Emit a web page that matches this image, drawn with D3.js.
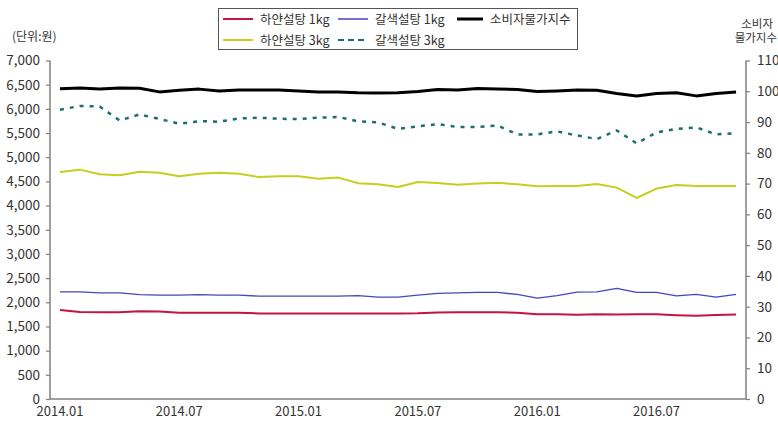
<!DOCTYPE html>
<html>
<head>
<meta charset="utf-8">
<script src="https://cdn.jsdelivr.net/npm/d3@7"></script>
<style>
  body { margin: 0; background: #fff; }
  svg text { font-family: "Noto Sans CJK KR", "Noto Sans", sans-serif; fill: #333; }
</style>
</head>
<body>
<div id="chart"></div>
<script>
// monthly series, 2014.01 ~ 2016.11
const months = [];
for (let y = 2014; y <= 2016; y++) {
    for (let m = 1; m <= 12; m++) {
        if (y === 2016 && m > 11) break;
        months.push(`${y}.${String(m).padStart(2, "0")}`);
    }
}
const tickMonths = ["2014.01", "2014.07", "2015.01", "2015.07", "2016.01", "2016.07"];

// 원 (left axis)
const white1kg = [1838, 1800, 1796, 1796, 1815, 1810, 1782, 1782, 1782, 1785, 1770, 1770,
                  1770, 1770, 1770, 1770, 1770, 1770, 1775, 1790, 1795, 1795, 1795, 1782,
                  1755, 1755, 1740, 1752, 1745, 1752, 1752, 1734, 1720, 1735, 1749];
const brown1kg = [2216, 2216, 2195, 2195, 2158, 2147, 2147, 2158, 2147, 2147, 2127, 2127,
                  2127, 2127, 2127, 2137, 2106, 2106, 2147, 2183, 2195, 2203, 2203, 2162,
                  2086, 2137, 2209, 2216, 2286, 2203, 2203, 2133, 2162, 2106, 2162];
const white3kg = [4693, 4743, 4646, 4625, 4698, 4677, 4605, 4660, 4681, 4656, 4590, 4605,
                  4605, 4557, 4578, 4460, 4439, 4384, 4487, 4466, 4433, 4454, 4470, 4439,
                  4398, 4404, 4404, 4446, 4371, 4157, 4351, 4425, 4404, 4404, 4404];
const brown3kg = [5982, 6060, 6050, 5760, 5885, 5792, 5693, 5746, 5734, 5802, 5817, 5796,
                  5788, 5817, 5833, 5740, 5720, 5585, 5637, 5685, 5623, 5623, 5658, 5472,
                  5472, 5534, 5451, 5375, 5554, 5286, 5513, 5585, 5617, 5472, 5493];
// 소비자물가지수 (right axis)
const cpi = [100.8, 101.1, 100.7, 101.1, 101.0, 99.8, 100.3, 100.7, 100.1, 100.4, 100.4, 100.4,
             100.1, 99.8, 99.8, 99.5, 99.4, 99.5, 99.9, 100.6, 100.4, 100.9, 100.7, 100.6,
             99.9, 100.1, 100.4, 100.3, 99.3, 98.5, 99.3, 99.5, 98.5, 99.3, 99.8];

const leftTicks = d3.range(0, 7001, 500);
const rightTicks = d3.range(0, 111, 10);

const width = 778, height = 423;
const plot = { left: 50, right: 746, top: 60.5, bottom: 399 };

const svg = d3.select("#chart").append("svg")
    .attr("width", width)
    .attr("height", height);

const x = d3.scaleBand()
    .domain(months)
    .range([plot.left, plot.right]);

const yLeft = d3.scaleLinear()
    .domain([0, 7000])
    .range([plot.bottom, plot.top]);

const yRight = d3.scaleLinear()
    .domain([0, 110])
    .range([plot.bottom, plot.top]);

const axisColor = "#7f7f7f";

// left axis
const gl = svg.append("g")
    .attr("transform", `translate(${plot.left},0)`)
    .call(d3.axisLeft(yLeft).tickValues(leftTicks).tickSize(4).tickPadding(6)
        .tickFormat(d3.format(",")));
gl.selectAll("text").style("font-size", "13.5px");

// right axis
const gr = svg.append("g")
    .attr("transform", `translate(${plot.right},0)`)
    .call(d3.axisRight(yRight).tickValues(rightTicks).tickSize(4).tickPadding(7));
gr.selectAll("text").style("font-size", "13.5px");

// bottom axis (no tick marks)
const gb = svg.append("g")
    .attr("transform", `translate(0,${plot.bottom})`)
    .call(d3.axisBottom(x).tickValues(tickMonths).tickSize(0).tickPadding(8));
gb.selectAll("text").style("font-size", "13px");

[gl, gr, gb].forEach(g => {
    g.select(".domain").attr("stroke", axisColor).attr("stroke-width", 1.5);
    g.selectAll(".tick line").attr("stroke", axisColor).attr("stroke-width", 1.2);
    g.selectAll("text").attr("fill", "#333");
});
gl.select(".domain").attr("d", `M0,${plot.top}V${plot.bottom}`);
gr.select(".domain").attr("d", `M0,${plot.top}V${plot.bottom}`);
gb.select(".domain").attr("d", `M${plot.left},0H${plot.right}`);

// series
const series = [
    { name: "하얀설탕 1kg", values: white1kg, y: yLeft, color: "#c21445", width: 2, dash: null },
    { name: "갈색설탕 1kg", values: brown1kg, y: yLeft, color: "#4646bd", width: 1.3, dash: null },
    { name: "소비자물가지수", values: cpi, y: yRight, color: "#000", width: 3, dash: null },
    { name: "하얀설탕 3kg", values: white3kg, y: yLeft, color: "#c5cf1f", width: 2, dash: null },
    { name: "갈색설탕 3kg", values: brown3kg, y: yLeft, color: "#1d6f6c", width: 2.5, dash: "4,6" }
];

const drawOrder = [4, 3, 0, 1, 2];
drawOrder.forEach(i => {
    const s = series[i];
    const line = d3.line()
        .x((d, j) => x(months[j]) + x.bandwidth() / 2)
        .y(d => s.y(d));
    svg.append("path")
        .datum(s.values)
        .attr("d", line)
        .attr("fill", "none")
        .attr("stroke", s.color)
        .attr("stroke-width", s.width)
        .attr("stroke-dasharray", s.dash)
        .attr("stroke-linejoin", "round");
});

// unit labels
svg.append("text")
    .attr("x", 12).attr("y", 41)
    .style("font-size", "12px")
    .text("(단위:원)");

svg.append("text")
    .attr("x", 773).attr("y", 28)
    .attr("text-anchor", "end")
    .style("font-size", "11.5px")
    .text("소비자");
svg.append("text")
    .attr("x", 777).attr("y", 42)
    .attr("text-anchor", "end")
    .style("font-size", "11.5px")
    .text("물가지수");

// legend
const legend = svg.append("g");
legend.append("rect")
    .attr("x", 218.5).attr("y", 8.5)
    .attr("width", 359).attr("height", 41)
    .attr("fill", "#fff")
    .attr("stroke", "#555")
    .attr("stroke-width", 1);

const legendPos = [
    { i: 0, x: 223, y: 19 },
    { i: 1, x: 338, y: 19 },
    { i: 2, x: 457, y: 19 },
    { i: 3, x: 223, y: 40 },
    { i: 4, x: 338, y: 40 }
];
legendPos.forEach(p => {
    const s = series[p.i];
    const len = p.i === 2 ? 26 : 30;
    legend.append("line")
        .attr("x1", p.x).attr("x2", p.x + len)
        .attr("y1", p.y).attr("y2", p.y)
        .attr("stroke", p.i === 1 ? "#7a6fd6" : s.color)
        .attr("stroke-width", p.i === 2 ? 3 : 2)
        .attr("stroke-dasharray", s.dash ? "6,4" : null);
    legend.append("text")
        .attr("x", p.x + len + 7).attr("y", p.y)
        .attr("dy", "0.36em")
        .style("font-size", "12.5px")
        .text(s.name);
});
</script>
</body>
</html>
